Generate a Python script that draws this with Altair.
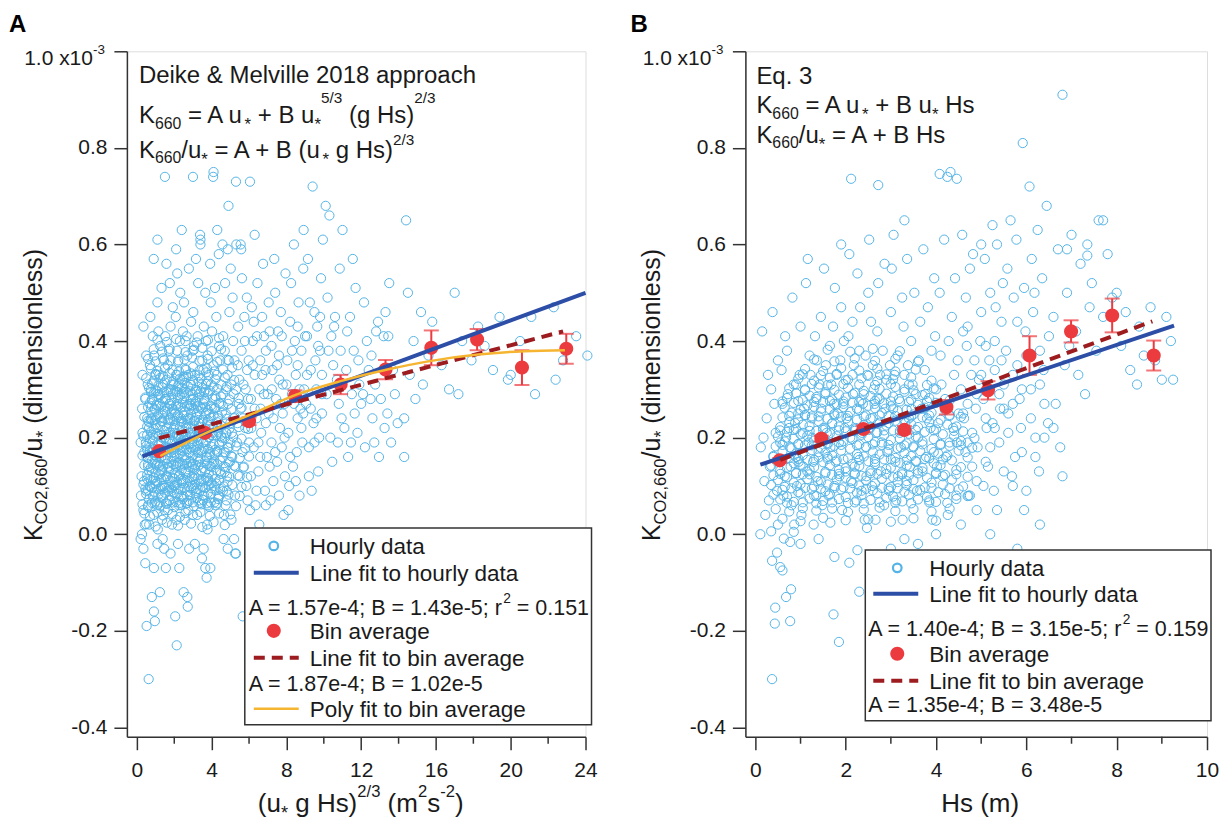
import altair as alt
import pandas as pd

FONT = "Liberation Sans"
TXT = "#1a1a1a"
AX = "#333333"
C_HOUR = "#55b4e6"
C_BIN = "#ec3b3f"
C_FIT = "#2d4ea6"
C_BFIT = "#9c1c1f"
C_POLY = "#f6b531"

# ---------------- data ----------------
hourly_a = [
    (0.25,0.12),(0.3,0.21),(0.35,0.05),(0.4,0.17),(0.45,0.28),(0.5,0.09),(0.3,0.33),(0.55,0.24),(0.2,0.19),(0.6,0.14),
    (0.35,0.43),(0.5,0.37),(0.42,0.02),(0.58,0.31),(0.28,0.26),(0.48,0.19),(0.22,0.08),(0.6,0.06),(0.38,0.11),(0.52,0.16),
    (0.65,0.22),(0.7,0.10),(0.75,0.30),(0.8,0.17),(0.85,0.41),(0.9,0.04),(0.95,0.26),(0.7,0.35),(0.8,0.13),(0.9,0.20),
    (1.0,0.33),(0.66,0.02),(0.72,0.45),(0.88,0.08),(0.97,0.15),(0.78,0.24),(0.92,0.37),(0.83,0.28),(0.68,0.18),(1.0,0.11),
    (1.05,0.22),(1.1,0.06),(1.15,0.29),(1.2,0.14),(1.25,0.39),(1.3,0.19),(1.35,0.03),(1.4,0.25),(1.45,0.10),(1.1,0.48),
    (1.2,0.33),(1.3,0.08),(1.4,0.31),(1.05,0.16),(1.15,0.42),(1.25,0.24),(1.35,0.13),(1.45,0.36),(1.5,0.20),(1.12,0.01),
    (1.32,0.51),(1.48,0.05),(1.22,0.27),(1.38,0.17),
    (1.55,0.28),(1.6,0.12),(1.65,0.35),(1.7,0.21),(1.75,0.07),(1.8,0.43),(1.85,0.16),(1.9,0.26),(1.95,0.31),(2.0,0.10),
    (1.58,0.56),(1.62,0.18),(1.72,0.38),(1.78,0.24),(1.88,0.02),(1.92,0.47),(1.68,0.14),(1.82,0.30),(1.98,0.22),(1.52,0.41),
    (1.66,0.05),(1.76,0.52),(1.86,0.09),(1.96,0.17),(1.74,0.27),
    (2.05,0.25),(2.1,0.14),(2.15,0.33),(2.2,0.20),(2.25,0.06),(2.3,0.40),(2.35,0.18),(2.4,0.29),(2.45,0.11),(2.5,0.23),
    (2.08,0.45),(2.12,0.03),(2.18,0.27),(2.22,0.36),(2.28,0.15),(2.32,0.50),(2.38,0.08),(2.42,0.32),(2.48,0.19),(2.02,0.21),
    (2.16,0.54),(2.26,0.12),(2.36,0.24),(2.46,0.42),(2.24,0.31),(2.44,0.16),
    (2.55,0.30),(2.6,0.13),(2.65,0.22),(2.7,0.37),(2.75,0.05),(2.8,0.26),(2.85,0.17),(2.9,0.44),(2.95,0.10),(3.0,0.28),
    (2.52,0.48),(2.58,0.20),(2.62,0.34),(2.68,0.08),(2.72,0.24),(2.78,0.55),(2.82,0.15),(2.88,0.31),(2.92,0.21),(2.98,0.38),
    (2.56,0.03),(2.66,0.41),(2.76,0.19),(2.86,0.27),(2.96,0.14),(2.74,0.33),
    (3.05,0.18),(3.1,0.33),(3.15,0.09),(3.2,0.25),(3.25,0.41),(3.3,0.15),(3.35,0.29),(3.4,0.61),(3.45,0.21),(3.5,0.36),
    (3.02,0.46),(3.08,0.12),(3.12,0.27),(3.18,0.20),(3.22,0.04),(3.28,0.52),(3.32,0.23),(3.38,0.62),(3.42,0.11),(3.48,0.31),
    (3.06,0.39),(3.16,0.57),(3.26,0.17),(3.36,0.07),(3.46,0.26),
    (3.55,0.19),(3.6,0.28),(3.65,0.13),(3.7,0.40),(3.75,0.23),(3.8,0.06),(3.85,0.33),(3.9,0.17),(3.95,0.48),(4.0,0.26),
    (3.52,0.08),(3.58,0.43),(3.62,0.21),(3.68,0.30),(3.72,0.16),(3.78,0.37),(3.82,0.11),(3.88,0.25),(3.92,0.56),(3.98,0.14),
    (3.56,0.34),(3.66,0.50),(3.76,0.02),(3.86,0.20),(3.96,0.31),
    (4.05,0.21),(4.1,0.35),(4.15,0.10),(4.2,0.28),(4.25,0.45),(4.3,0.17),(4.35,0.24),(4.4,0.39),(4.45,0.13),(4.5,0.31),
    (4.08,0.74),(4.12,0.15),(4.18,0.51),(4.22,0.06),(4.28,0.33),(4.32,0.22),(4.38,0.58),(4.42,0.19),(4.48,0.27),(4.02,0.42),
    (4.16,0.26),(4.36,0.08),(4.46,0.36),
    (4.55,0.20),(4.6,0.29),(4.65,0.14),(4.7,0.38),(4.75,0.25),(4.8,0.09),(4.85,0.33),(4.9,0.18),(4.95,0.46),(5.0,0.23),
    (4.58,0.60),(4.62,0.41),(4.68,0.17),(4.72,0.52),(4.78,0.30),(4.82,0.12),(4.88,0.27),(4.92,0.36),(4.98,0.15),(4.66,0.04),
    (4.86,0.59),(4.76,0.21),
    (5.05,0.31),(5.1,0.16),(5.15,0.40),(5.2,0.24),(5.25,0.08),(5.3,0.73),(5.35,0.19),(5.4,0.35),(5.45,0.27),(5.5,0.12),
    (5.02,0.55),(5.08,0.21),(5.12,0.49),(5.18,0.29),(5.22,0.36),(5.28,0.14),(5.32,0.60),(5.38,0.23),(5.42,0.43),(5.48,0.32),
    (5.26,-0.04),(5.06,0.03),
    (5.55,0.26),(5.6,0.38),(5.65,0.17),(5.7,0.31),(5.75,0.45),(5.8,0.22),(5.85,0.10),(5.9,0.34),(5.95,0.28),(6.0,0.19),
    (5.58,0.59),(5.62,0.53),(5.68,0.24),(5.72,0.14),(5.78,0.40),(5.82,0.30),(5.88,0.49),(5.92,0.07),(5.98,0.36),(5.66,-0.17),
    (6.05,0.73),(6.1,0.28),(6.2,0.40),(6.25,0.18),(6.3,0.33),(6.4,0.24),(6.45,0.52),(6.5,0.13),(6.6,0.36),(6.65,0.21),
    (6.7,0.45),(6.8,0.29),(6.85,0.09),(6.9,0.38),(6.95,0.16),(6.15,0.47),(6.35,0.06),(6.55,0.30),(6.75,0.56),(6.12,0.22),
    (6.42,0.41),(6.62,0.26),(6.88,0.34),
    (7.05,0.25),(7.1,0.42),(7.2,0.19),(7.25,0.34),(7.3,0.11),(7.4,0.50),(7.45,0.28),(7.5,0.15),(7.6,0.37),(7.65,0.22),
    (7.7,0.46),(7.8,0.31),(7.85,0.04),(7.9,0.27),(7.95,0.54),(7.15,0.07),(7.35,0.57),(7.55,0.42),(7.75,0.18),(7.22,0.30),
    (7.62,0.32),(7.92,0.12),
    (8.05,0.36),(8.1,0.21),(8.2,0.44),(8.3,0.29),(8.35,0.14),(8.4,0.60),(8.5,0.33),(8.6,0.24),(8.65,0.48),(8.7,0.08),
    (8.8,0.38),(8.85,0.19),(8.9,0.55),(8.95,0.30),(8.25,0.52),(8.45,0.40),(8.55,0.17),(8.75,0.26),(8.15,0.10),(8.6,0.43),
    (8.92,0.63),
    (9.05,0.27),(9.1,0.41),(9.2,0.18),(9.3,0.34),(9.4,0.72),(9.45,0.23),(9.5,0.46),(9.6,0.30),(9.7,0.13),(9.8,0.38),
    (9.85,0.53),(9.9,0.25),(9.95,0.61),(9.15,0.57),(9.35,0.09),(9.55,0.36),(9.75,0.20),(9.25,0.48),(9.65,0.43),(9.9,0.33),
    (10.1,0.68),(10.15,0.29),(10.3,0.66),(10.35,0.20),(10.4,0.41),(10.5,0.35),(10.6,0.45),(10.75,0.19),(10.8,0.27),(10.9,0.38),
    (11.0,0.63),(10.2,0.49),(10.45,0.15),(10.7,0.32),(10.95,0.24),(10.55,0.43),(10.25,0.38),(10.85,0.55),
    (11.1,0.22),(11.2,0.34),(11.3,0.16),(11.4,0.45),(11.5,0.29),(11.6,0.38),(11.7,0.51),(11.8,0.21),(11.9,0.31),(12.0,0.27),
    (11.45,0.19),(11.25,0.42),(11.65,0.25),(11.85,0.36),(11.55,0.57),
    (12.1,0.29),(12.2,0.18),(12.3,0.40),(12.5,0.28),(12.7,0.19),(12.8,0.42),(12.9,0.44),(12.95,0.16),(12.4,0.34),(12.6,0.24),
    (12.75,0.31),(12.15,0.48),(12.55,0.37),
    (13.05,0.28),(13.2,0.41),(13.25,0.22),(13.4,0.25),(13.45,0.41),(13.6,0.19),(13.7,0.34),(13.95,0.23),(13.3,0.46),(13.8,0.29),
    (13.5,0.52),
    (14.3,0.24),(14.3,0.16),(14.4,0.65),(14.6,0.33),(14.8,0.40),(15.2,0.46),(15.3,0.31),(15.6,0.37),(14.9,0.28),(15.8,0.44),
    (14.5,0.50),
    (16.3,0.35),(16.7,0.30),(17.0,0.50),(17.4,0.40),(17.9,0.36),(18.25,0.43),(18.6,0.39),(19.05,0.34),(19.4,0.45),(19.85,0.32),
    (17.2,0.29),
    (20.0,0.33),(20.5,0.40),(21.1,0.45),(21.3,0.29),(22.3,0.47),(22.4,0.32),(22.8,0.36),(24.1,0.37),(23.5,0.41),
    (0.63,-0.30),(0.52,-0.19),(0.96,-0.18),(0.80,-0.13),(1.23,-0.12),(0.91,-0.16),(2.05,-0.17),(2.13,-0.23),(2.5,-0.12),
    (2.7,-0.13),(2.72,-0.15),(0.45,-0.06),(0.91,-0.07),(1.55,-0.07),(2.27,-0.07),(2.8,-0.03),(3.73,-0.09),(3.66,-0.07),
    (3.48,-0.05),(3.57,-0.03),(3.93,-0.07),(3.78,0.01),(0.27,0.0),(1.38,-0.01),(1.1,-0.02),(1.46,-0.03),(4.64,-0.01),
    (5.2,-0.01),(5.3,-0.04),(4.86,-0.03),(0.2,-0.01),(0.35,-0.03),(3.1,-0.02),(2.2,-0.02),(1.8,-0.04),
    (1.5,0.74),(3.0,0.74),(4.1,0.75),(3.4,0.60),(2.1,0.59),(0.9,0.57),(4.9,0.68),(5.55,0.60),(4.3,0.63),(6.3,0.62),
    (2.4,0.63),(1.1,0.61),
]

core_a = [
    (0.5,0.021),(1.0,0.016),(1.6,0.024),(2.2,0.018),(2.9,0.022),(3.5,0.015),(4.1,0.025),(4.7,0.019),
    (0.4,0.043),(0.7,0.037),(1.1,0.045),(1.4,0.039),(1.9,0.042),(2.3,0.036),(2.6,0.044),(3.0,0.040),(3.4,0.046),(3.9,0.038),(4.4,0.043),(5.0,0.041),
    (0.3,0.062),(0.6,0.057),(0.95,0.064),(1.25,0.059),(1.6,0.063),(2.0,0.056),(2.35,0.061),(2.7,0.065),(3.05,0.058),(3.45,0.062),(3.85,0.057),(4.3,0.064),(4.75,0.06),(5.3,0.058),
    (0.65,0.072),(1.0,0.068),(1.4,0.074),(1.75,0.07),(2.1,0.067),(2.45,0.073),(2.8,0.069),(3.2,0.075),(3.55,0.071),(3.95,0.066),(4.35,0.073),(4.8,0.07),
    (0.5,0.083),(0.85,0.078),(1.15,0.082),(1.5,0.086),(1.85,0.079),(2.15,0.084),(2.5,0.077),(2.85,0.081),(3.2,0.085),(3.6,0.08),(3.95,0.083),(4.4,0.078),(4.9,0.082),(5.5,0.079),
    (0.6,0.092),(0.95,0.088),(1.3,0.094),(1.65,0.09),(2.0,0.087),(2.35,0.093),(2.7,0.089),(3.05,0.095),(3.4,0.091),(3.8,0.086),(4.2,0.092),(4.6,0.089),
    (0.35,0.103),(0.7,0.098),(1.0,0.104),(1.35,0.1),(1.7,0.097),(2.05,0.102),(2.4,0.106),(2.75,0.099),(3.1,0.103),(3.5,0.097),(3.85,0.101),(4.25,0.105),(4.65,0.099),(5.1,0.102),(5.6,0.098),
    (0.75,0.112),(1.1,0.108),(1.45,0.114),(1.8,0.11),(2.15,0.107),(2.5,0.113),(2.85,0.109),(3.25,0.115),(3.6,0.111),(4.0,0.106),(4.4,0.112),(4.85,0.109),
    (0.55,0.123),(0.9,0.118),(1.2,0.124),(1.55,0.12),(1.9,0.117),(2.25,0.122),(2.6,0.126),(2.95,0.119),(3.3,0.123),(3.7,0.117),(4.05,0.121),(4.5,0.125),(4.95,0.119),(5.4,0.122),(5.9,0.118),
    (0.65,0.132),(1.0,0.128),(1.35,0.134),(1.7,0.13),(2.05,0.127),(2.4,0.133),(2.75,0.129),(3.1,0.135),(3.45,0.131),(3.85,0.126),(4.25,0.132),(4.7,0.129),
    (0.4,0.143),(0.75,0.138),(1.05,0.144),(1.4,0.14),(1.75,0.137),(2.1,0.142),(2.45,0.146),(2.8,0.139),(3.15,0.143),(3.55,0.137),(3.9,0.141),(4.3,0.145),(4.75,0.139),(5.2,0.142),(5.7,0.138),
    (0.8,0.152),(1.15,0.148),(1.5,0.154),(1.85,0.15),(2.2,0.147),(2.55,0.153),(2.9,0.149),(3.25,0.155),(3.65,0.151),(4.05,0.146),(4.45,0.152),(4.9,0.149),
    (0.3,0.163),(0.6,0.158),(0.95,0.164),(1.3,0.16),(1.65,0.157),(2.0,0.162),(2.3,0.166),(2.65,0.159),(3.0,0.163),(3.4,0.157),(3.75,0.161),(4.15,0.165),(4.6,0.159),(5.05,0.162),(5.5,0.158),(6.0,0.161),
    (0.7,0.172),(1.05,0.168),(1.4,0.174),(1.75,0.17),(2.1,0.167),(2.45,0.173),(2.8,0.169),(3.15,0.175),(3.5,0.171),(3.9,0.166),(4.3,0.172),(4.75,0.169),
    (0.5,0.183),(0.85,0.178),(1.15,0.184),(1.5,0.18),(1.85,0.177),(2.2,0.182),(2.55,0.186),(2.9,0.179),(3.25,0.183),(3.6,0.177),(4.0,0.181),(4.4,0.185),(4.85,0.179),(5.3,0.182),(5.8,0.178),
    (0.85,0.192),(1.2,0.188),(1.55,0.194),(1.9,0.19),(2.25,0.187),(2.6,0.193),(2.95,0.189),(3.3,0.195),(3.7,0.191),(4.1,0.186),(4.55,0.192),(5.0,0.189),
    (0.35,0.203),(0.7,0.198),(1.0,0.204),(1.35,0.2),(1.7,0.197),(2.05,0.202),(2.4,0.206),(2.75,0.199),(3.1,0.203),(3.45,0.197),(3.85,0.201),(4.25,0.205),(4.7,0.199),(5.15,0.202),(5.6,0.198),
    (0.75,0.212),(1.1,0.208),(1.45,0.214),(1.8,0.21),(2.15,0.207),(2.5,0.213),(2.85,0.209),(3.2,0.215),(3.55,0.211),(3.95,0.206),(4.35,0.212),(4.8,0.209),
    (0.55,0.223),(0.9,0.218),(1.25,0.224),(1.6,0.22),(1.95,0.217),(2.3,0.222),(2.65,0.226),(3.0,0.219),(3.35,0.223),(3.7,0.217),(4.1,0.221),(4.5,0.225),(4.95,0.219),(5.45,0.222),(5.95,0.218),
    (0.65,0.232),(1.0,0.228),(1.35,0.234),(1.7,0.23),(2.05,0.227),(2.4,0.233),(2.75,0.229),(3.1,0.235),(3.5,0.231),(3.9,0.226),(4.3,0.232),(4.75,0.229),
    (0.4,0.243),(0.75,0.238),(1.1,0.244),(1.45,0.24),(1.8,0.237),(2.15,0.242),(2.5,0.246),(2.85,0.239),(3.2,0.243),(3.55,0.237),(3.95,0.241),(4.35,0.245),(4.8,0.239),(5.25,0.242),
    (0.8,0.252),(1.15,0.248),(1.5,0.254),(1.85,0.25),(2.2,0.247),(2.55,0.253),(2.9,0.249),(3.3,0.255),(3.7,0.251),(4.1,0.246),(4.55,0.252),
    (0.6,0.263),(0.95,0.258),(1.3,0.264),(1.65,0.26),(2.0,0.257),(2.35,0.262),(2.7,0.266),(3.05,0.259),(3.4,0.263),(3.8,0.257),(4.2,0.261),(4.6,0.265),(5.05,0.259),(5.6,0.262),
    (0.7,0.272),(1.05,0.268),(1.4,0.274),(1.75,0.27),(2.1,0.267),(2.45,0.273),(2.8,0.269),(3.15,0.275),(3.55,0.271),(3.95,0.266),(4.4,0.272),
    (0.45,0.283),(0.8,0.278),(1.15,0.284),(1.5,0.28),(1.85,0.277),(2.2,0.282),(2.55,0.286),(2.9,0.279),(3.3,0.283),(3.65,0.277),(4.05,0.281),(4.5,0.285),(4.95,0.279),(5.45,0.282),
    (0.9,0.292),(1.25,0.288),(1.6,0.294),(1.95,0.29),(2.3,0.287),(2.65,0.293),(3.0,0.289),(3.4,0.295),(3.8,0.291),(4.2,0.286),
    (0.65,0.303),(1.0,0.298),(1.35,0.304),(1.7,0.3),(2.05,0.297),(2.4,0.302),(2.75,0.306),(3.15,0.299),(3.5,0.303),(3.9,0.297),(4.3,0.301),(4.8,0.305),(5.3,0.299),
    (0.8,0.312),(1.15,0.308),(1.5,0.314),(1.85,0.31),(2.2,0.307),(2.55,0.313),(2.9,0.309),(3.3,0.315),(3.7,0.311),(4.1,0.306),
    (0.5,0.323),(0.9,0.318),(1.25,0.324),(1.6,0.32),(1.95,0.317),(2.3,0.322),(2.65,0.326),(3.0,0.319),(3.4,0.323),(3.8,0.317),(4.2,0.321),(4.7,0.325),(5.2,0.319),
    (1.0,0.332),(1.4,0.328),(1.75,0.334),(2.1,0.33),(2.5,0.327),(2.9,0.333),(3.3,0.329),(3.7,0.335),
    (0.75,0.343),(1.1,0.338),(1.5,0.344),(1.9,0.34),(2.25,0.337),(2.6,0.342),(3.0,0.346),(3.35,0.339),(3.75,0.343),(4.15,0.337),(4.6,0.341),(5.1,0.345),
    (0.6,0.363),(1.0,0.358),(1.4,0.364),(1.8,0.36),(2.2,0.357),(2.55,0.362),(2.95,0.366),(3.35,0.359),(3.8,0.363),(4.3,0.357),(4.85,0.361),
    (0.9,0.383),(1.35,0.378),(1.75,0.384),(2.15,0.38),(2.6,0.377),(3.05,0.382),(3.5,0.386),(4.0,0.379),(4.5,0.383),
    (1.1,0.403),(1.6,0.398),(2.1,0.404),(2.6,0.4),(3.2,0.397),(3.8,0.402),(4.4,0.406),
]

extra_a = [
    (0.8,0.065),(1.2,0.066),(1.55,0.064),(1.95,0.066),(2.3,0.065),(2.65,0.064),(3.0,0.066),(3.35,0.065),(3.75,0.064),(4.15,0.066),
    (0.45,0.095),(0.8,0.096),(1.15,0.094),(1.5,0.096),(1.85,0.095),(2.2,0.094),(2.55,0.096),(2.9,0.095),(3.25,0.094),(3.65,0.096),(4.0,0.095),(4.45,0.094),
    (0.55,0.115),(0.9,0.116),(1.3,0.114),(1.65,0.116),(2.0,0.115),(2.35,0.114),(2.7,0.116),(3.05,0.115),(3.45,0.114),(3.8,0.116),(4.2,0.115),
    (0.6,0.145),(0.95,0.146),(1.25,0.144),(1.6,0.146),(1.95,0.145),(2.3,0.144),(2.65,0.146),(3.0,0.145),(3.35,0.144),(3.75,0.146),(4.15,0.145),
    (0.55,0.175),(0.9,0.176),(1.25,0.174),(1.6,0.176),(1.95,0.175),(2.3,0.174),(2.65,0.176),(3.0,0.175),(3.4,0.174),(3.8,0.176),(4.2,0.175),
    (0.55,0.205),(0.85,0.206),(1.2,0.204),(1.55,0.206),(1.9,0.205),(2.25,0.204),(2.6,0.206),(2.95,0.205),(3.3,0.204),(3.65,0.206),(4.05,0.205),(4.5,0.204),
    (0.6,0.235),(0.95,0.236),(1.3,0.234),(1.65,0.236),(2.0,0.235),(2.35,0.234),(2.7,0.236),(3.05,0.235),(3.4,0.234),(3.8,0.236),
    (0.8,0.265),(1.15,0.266),(1.5,0.264),(1.85,0.266),(2.2,0.265),(2.55,0.264),(2.9,0.266),(3.25,0.265),(3.65,0.264),
    (0.75,0.295),(1.1,0.296),(1.45,0.294),(1.8,0.296),(2.15,0.295),(2.5,0.294),(2.85,0.296),(3.2,0.295),(3.6,0.294),
]

mid_a = [
    (6.1,0.12),(6.3,0.26),(6.5,0.19),(6.7,0.33),(6.9,0.23),(6.2,0.35),(6.4,0.09),(6.6,0.16),(6.8,0.41),(7.0,0.29),
    (7.1,0.14),(7.3,0.24),(7.5,0.35),(7.7,0.27),(7.9,0.20),(7.2,0.39),(7.4,0.17),(7.6,0.08),(7.8,0.25),(8.0,0.31),
    (8.2,0.16),(8.4,0.27),(8.6,0.35),(8.8,0.22),(9.0,0.41),(8.3,0.38),(8.5,0.11),(8.7,0.30),(8.9,0.25),(9.1,0.33),
    (9.3,0.26),(9.5,0.19),(9.7,0.39),(9.9,0.29),(9.2,0.12),(9.6,0.24),(9.8,0.45),(6.25,0.44),(7.05,0.48),(7.75,0.41),
    (6.05,0.05),(6.55,0.02),(7.45,-0.01),(6.9,0.06),(8.1,0.05),
]

hourly_b = [
    (0.12,0.18),(0.15,0.42),(0.2,0.11),(0.25,0.24),(0.3,0.07),(0.35,0.30),(0.4,0.16),(0.45,0.21),(0.5,0.36),(0.22,0.04),
    (0.32,0.14),(0.42,0.27),(0.48,0.09),(0.18,0.20),(0.28,0.33),(0.38,0.46),(0.5,0.02),
    (0.55,0.19),(0.6,0.27),(0.65,0.12),(0.7,0.38),(0.75,0.22),(0.8,0.06),(0.85,0.31),(0.9,0.16),(0.95,0.25),(1.0,0.43),
    (0.58,0.34),(0.62,0.08),(0.68,0.20),(0.72,0.29),(0.78,0.14),(0.82,0.49),(0.88,0.23),(0.92,0.10),(0.98,0.33),(0.66,0.41),
    (0.86,0.02),(0.76,0.18),(0.96,0.15),
    (1.05,0.21),(1.1,0.30),(1.15,0.13),(1.2,0.37),(1.25,0.24),(1.3,0.08),(1.35,0.28),(1.4,0.17),(1.45,0.45),(1.5,0.22),
    (1.02,0.04),(1.08,0.26),(1.12,0.52),(1.18,0.19),(1.22,0.33),(1.28,0.15),(1.32,0.41),(1.38,0.11),(1.42,0.31),(1.48,0.06),
    (1.16,0.57),(1.26,0.20),(1.36,0.36),(1.46,0.26),(1.06,0.14),
    (1.55,0.29),(1.6,0.16),(1.65,0.39),(1.7,0.23),(1.75,0.10),(1.8,0.33),(1.85,0.19),(1.9,0.47),(1.95,0.27),(2.0,0.13),
    (1.52,0.55),(1.58,0.21),(1.62,0.08),(1.68,0.31),(1.72,0.43),(1.78,0.15),(1.82,0.25),(1.88,0.36),(1.92,0.05),(1.98,0.22),
    (1.56,0.35),(1.66,0.18),(1.76,0.51),(1.86,0.12),(1.96,0.40),(1.74,0.27),
    (2.05,0.32),(2.1,0.20),(2.15,0.44),(2.2,0.14),(2.25,0.26),(2.3,0.38),(2.35,0.09),(2.4,0.29),(2.45,0.18),(2.5,0.50),
    (2.02,0.24),(2.08,0.58),(2.12,0.11),(2.18,0.35),(2.22,0.22),(2.28,0.16),(2.32,0.47),(2.38,0.27),(2.42,0.03),(2.48,0.33),
    (2.06,0.41),(2.16,0.29),(2.26,0.54),(2.36,0.21),(2.46,0.12),(2.24,0.07),(2.44,0.37),
    (2.55,0.24),(2.6,0.35),(2.65,0.15),(2.7,0.42),(2.75,0.28),(2.8,0.19),(2.85,0.06),(2.9,0.32),(2.95,0.23),(3.0,0.46),
    (2.52,0.61),(2.58,0.10),(2.62,0.30),(2.68,0.21),(2.72,0.52),(2.78,0.13),(2.82,0.38),(2.88,0.26),(2.92,0.17),(2.98,0.35),
    (2.56,0.44),(2.66,0.03),(2.76,0.33),(2.86,0.56),(2.96,0.09),(2.64,0.27),
    (3.05,0.26),(3.1,0.15),(3.15,0.37),(3.2,0.21),(3.25,0.49),(3.3,0.30),(3.35,0.11),(3.4,0.24),(3.45,0.40),(3.5,0.18),
    (3.02,0.55),(3.08,0.33),(3.12,0.07),(3.18,0.28),(3.22,0.18),(3.28,0.43),(3.32,0.23),(3.38,0.35),(3.42,0.14),(3.48,0.31),
    (3.06,0.62),(3.16,0.12),(3.26,0.03),(3.36,0.57),(3.46,0.26),
    (3.55,0.29),(3.6,0.20),(3.65,0.44),(3.7,0.13),(3.75,0.34),(3.8,0.24),(3.85,0.07),(3.9,0.38),(3.95,0.17),(4.0,0.30),
    (3.52,0.50),(3.58,0.09),(3.62,0.36),(3.68,0.26),(3.72,0.59),(3.78,0.16),(3.82,0.47),(3.88,0.22),(3.92,0.03),(3.98,0.41),
    (3.56,0.15),(3.76,0.29),(3.96,0.53),
    (4.05,0.23),(4.1,0.37),(4.15,0.12),(4.2,0.28),(4.25,0.74),(4.3,0.19),(4.35,0.45),(4.4,0.33),(4.45,0.08),(4.5,0.25),
    (4.08,0.50),(4.12,0.31),(4.18,0.61),(4.22,0.16),(4.28,0.40),(4.32,0.75),(4.38,0.22),(4.42,0.53),(4.48,0.36),(4.02,0.14),
    (4.26,0.04),(4.46,0.19),
    (4.55,0.30),(4.6,0.42),(4.65,0.17),(4.7,0.27),(4.75,0.55),(4.8,0.21),(4.85,0.36),(4.9,0.11),(4.95,0.32),(5.0,0.46),
    (4.58,0.62),(4.62,0.24),(4.68,0.39),(4.72,0.08),(4.78,0.33),(4.82,0.58),(4.88,0.26),(4.92,0.18),(4.98,0.40),(4.66,0.49),
    (5.05,0.28),(5.1,0.39),(5.15,0.14),(5.2,0.50),(5.25,0.23),(5.3,0.34),(5.35,0.60),(5.4,0.19),(5.45,0.44),(5.5,0.31),
    (5.08,0.57),(5.12,0.22),(5.18,0.36),(5.28,0.09),(5.32,0.47),(5.42,0.26),(5.48,0.52),
    (5.55,0.38),(5.6,0.25),(5.65,0.65),(5.7,0.33),(5.75,0.16),(5.8,0.44),(5.85,0.28),(5.92,0.81),(5.95,0.51),(6.0,0.37),
    (5.58,0.55),(5.68,0.12),(5.78,0.61),(5.88,0.22),(5.98,0.42),(5.72,0.49),
    (6.07,0.72),(6.1,0.30),(6.15,0.46),(6.2,0.20),(6.25,0.63),(6.3,0.38),(6.35,0.53),(6.4,0.27),(6.45,0.68),(6.5,0.41),
    (6.12,0.57),(6.28,0.13),(6.38,0.34),(6.18,0.50),(6.48,0.23),
    (6.6,0.45),(6.7,0.59),(6.8,0.91),(6.85,0.35),(6.9,0.50),(7.0,0.62),(7.1,0.42),(7.2,0.56),(7.3,0.29),(7.4,0.47),
    (6.65,0.27),(6.95,0.39),(7.15,0.33),(7.35,0.60),(7.45,0.52),(6.75,0.18),
    (7.6,0.65),(7.7,0.45),(7.8,0.58),(7.9,0.49),(8.0,0.50),(8.1,0.39),(8.2,0.46),(8.3,0.34),(8.45,0.31),(8.6,0.37),
    (8.75,0.47),(8.85,0.36),(9.0,0.32),(9.2,0.40),(9.25,0.32),(8.5,0.43),(7.55,0.38),(9.1,0.45),
    (0.37,-0.30),(0.43,-0.185),(0.77,-0.18),(0.44,-0.152),(0.68,-0.13),(0.79,-0.114),(1.73,-0.166),(1.85,-0.223),
    (2.3,-0.119),(1.75,-0.047),(2.08,-0.059),(2.26,-0.033),(0.37,-0.055),(0.55,-0.068),(0.48,-0.038),(0.11,0.0),
    (0.35,0.006),(0.63,-0.009),(0.77,-0.016),(0.85,0.005),(1.29,0.02),(1.66,0.024),(2.47,0.013),(0.6,-0.075),
    (1.0,-0.02),(1.4,-0.01),(3.0,-0.03),(3.3,-0.01),(4.0,0.0),(3.6,-0.02),
    (2.12,0.736),(2.72,0.723),(4.08,0.746),(4.46,0.736),(5.0,0.60),(5.25,0.64),(6.9,0.59),(7.35,0.577),(7.7,0.65),
    (1.9,0.60),(3.3,0.65),
]

core_b = [
    (0.6,0.032),(1.0,0.027),(1.5,0.034),(2.0,0.029),(2.5,0.031),(3.0,0.026),(3.5,0.033),(4.0,0.028),
    (0.45,0.052),(0.75,0.047),(1.05,0.054),(1.35,0.049),(1.7,0.053),(2.05,0.046),(2.4,0.051),(2.75,0.055),(3.1,0.048),(3.5,0.052),(3.9,0.047),(4.3,0.053),
    (0.55,0.072),(0.85,0.067),(1.2,0.074),(1.5,0.069),(1.85,0.073),(2.2,0.066),(2.55,0.071),(2.9,0.075),(3.25,0.068),(3.6,0.072),(4.0,0.067),(4.45,0.073),
    (0.4,0.082),(0.7,0.078),(1.0,0.084),(1.35,0.079),(1.65,0.083),(2.0,0.077),(2.35,0.081),(2.7,0.085),(3.05,0.078),(3.4,0.082),(3.8,0.077),(4.2,0.083),(4.7,0.079),
    (0.6,0.092),(0.95,0.087),(1.25,0.094),(1.55,0.089),(1.9,0.093),(2.25,0.086),(2.6,0.091),(2.95,0.095),(3.3,0.088),(3.65,0.092),(4.05,0.087),(4.5,0.093),
    (0.35,0.102),(0.65,0.098),(1.0,0.104),(1.3,0.099),(1.6,0.103),(1.95,0.097),(2.3,0.101),(2.65,0.105),(3.0,0.098),(3.35,0.102),(3.75,0.097),(4.15,0.103),(4.6,0.099),
    (0.5,0.112),(0.85,0.107),(1.15,0.114),(1.45,0.109),(1.8,0.113),(2.15,0.106),(2.45,0.111),(2.8,0.115),(3.15,0.108),(3.5,0.112),(3.9,0.107),(4.35,0.113),
    (0.4,0.122),(0.7,0.118),(1.05,0.124),(1.35,0.119),(1.7,0.123),(2.0,0.117),(2.35,0.121),(2.7,0.125),(3.05,0.118),(3.4,0.122),(3.8,0.117),(4.2,0.123),(4.7,0.119),
    (0.55,0.132),(0.9,0.127),(1.2,0.134),(1.55,0.129),(1.85,0.133),(2.2,0.126),(2.55,0.131),(2.9,0.135),(3.25,0.128),(3.6,0.132),(4.0,0.127),(4.45,0.133),
    (0.35,0.142),(0.7,0.138),(1.0,0.144),(1.3,0.139),(1.65,0.143),(2.0,0.137),(2.3,0.141),(2.65,0.145),(3.0,0.138),(3.35,0.142),(3.7,0.137),(4.1,0.143),(4.55,0.139),
    (0.5,0.152),(0.85,0.147),(1.15,0.154),(1.5,0.149),(1.8,0.153),(2.15,0.146),(2.5,0.151),(2.85,0.155),(3.2,0.148),(3.55,0.152),(3.95,0.147),(4.35,0.153),
    (0.4,0.162),(0.75,0.158),(1.05,0.164),(1.4,0.159),(1.7,0.163),(2.05,0.157),(2.4,0.161),(2.75,0.165),(3.1,0.158),(3.45,0.162),(3.85,0.157),(4.25,0.163),(4.7,0.159),
    (0.6,0.172),(0.9,0.167),(1.25,0.174),(1.55,0.169),(1.9,0.173),(2.25,0.166),(2.6,0.171),(2.95,0.175),(3.3,0.168),(3.65,0.172),(4.05,0.167),(4.5,0.173),
    (0.45,0.182),(0.8,0.178),(1.1,0.184),(1.45,0.179),(1.75,0.183),(2.1,0.177),(2.45,0.181),(2.8,0.185),(3.15,0.178),(3.5,0.182),(3.9,0.177),(4.3,0.183),(4.8,0.179),
    (0.65,0.192),(0.95,0.187),(1.3,0.194),(1.6,0.189),(1.95,0.193),(2.3,0.186),(2.65,0.191),(3.0,0.195),(3.35,0.188),(3.7,0.192),(4.1,0.187),(4.55,0.193),
    (0.5,0.202),(0.85,0.198),(1.15,0.204),(1.5,0.199),(1.8,0.203),(2.15,0.197),(2.5,0.201),(2.85,0.205),(3.2,0.198),(3.55,0.202),(3.95,0.197),(4.4,0.203),(4.85,0.199),
    (0.7,0.212),(1.0,0.207),(1.35,0.214),(1.65,0.209),(2.0,0.213),(2.35,0.206),(2.7,0.211),(3.05,0.215),(3.4,0.208),(3.75,0.212),(4.15,0.207),(4.6,0.213),
    (0.55,0.222),(0.9,0.218),(1.2,0.224),(1.55,0.219),(1.85,0.223),(2.2,0.217),(2.55,0.221),(2.9,0.225),(3.25,0.218),(3.6,0.222),(4.0,0.217),(4.45,0.223),
    (0.75,0.232),(1.05,0.227),(1.4,0.234),(1.7,0.229),(2.05,0.233),(2.4,0.226),(2.75,0.231),(3.1,0.235),(3.45,0.228),(3.85,0.232),(4.25,0.227),
    (0.6,0.242),(0.95,0.238),(1.25,0.244),(1.6,0.239),(1.9,0.243),(2.25,0.237),(2.6,0.241),(2.95,0.245),(3.3,0.238),(3.7,0.242),(4.1,0.237),(4.55,0.243),
    (0.8,0.252),(1.1,0.247),(1.45,0.254),(1.75,0.249),(2.1,0.253),(2.45,0.246),(2.8,0.251),(3.15,0.255),(3.5,0.248),(3.9,0.252),(4.3,0.247),
    (0.65,0.262),(1.0,0.258),(1.3,0.264),(1.65,0.259),(1.95,0.263),(2.3,0.257),(2.65,0.261),(3.0,0.265),(3.35,0.258),(3.75,0.262),(4.2,0.257),
    (0.85,0.272),(1.15,0.267),(1.5,0.274),(1.8,0.269),(2.15,0.273),(2.5,0.266),(2.85,0.271),(3.2,0.275),(3.6,0.268),(4.0,0.272),
    (0.7,0.282),(1.05,0.278),(1.35,0.284),(1.7,0.279),(2.0,0.283),(2.35,0.277),(2.7,0.281),(3.05,0.285),(3.45,0.278),(3.85,0.282),(4.3,0.277),
    (0.9,0.292),(1.2,0.287),(1.55,0.294),(1.85,0.289),(2.2,0.293),(2.55,0.286),(2.9,0.291),(3.3,0.295),(3.7,0.288),
    (0.75,0.302),(1.1,0.298),(1.4,0.304),(1.75,0.299),(2.05,0.303),(2.4,0.297),(2.75,0.301),(3.1,0.305),(3.5,0.298),(3.95,0.302),
    (0.95,0.322),(1.3,0.318),(1.65,0.324),(2.0,0.319),(2.35,0.323),(2.7,0.317),(3.05,0.321),(3.45,0.325),(3.9,0.318),
    (1.1,0.342),(1.5,0.338),(1.9,0.344),(2.3,0.339),(2.7,0.343),(3.1,0.337),(3.55,0.341),
    (1.3,0.362),(1.75,0.358),(2.2,0.364),(2.65,0.359),(3.1,0.363),(3.6,0.357),
    (1.6,0.382),(2.1,0.378),(2.6,0.384),(3.2,0.379),
]

extra_b = [
    (0.7,0.065),(1.05,0.066),(1.35,0.064),(1.7,0.066),(2.05,0.065),(2.4,0.064),(2.75,0.066),(3.1,0.065),(3.45,0.064),(3.85,0.066),(4.25,0.065),
    (0.8,0.095),(1.1,0.096),(1.45,0.094),(1.75,0.096),(2.1,0.095),(2.45,0.094),(2.8,0.096),(3.15,0.095),(3.5,0.094),(3.9,0.096),(4.3,0.095),
    (0.55,0.125),(0.9,0.126),(1.2,0.124),(1.55,0.126),(1.85,0.125),(2.2,0.124),(2.55,0.126),(2.9,0.125),(3.25,0.124),(3.6,0.126),(4.0,0.125),(4.45,0.124),
    (0.6,0.155),(0.95,0.156),(1.3,0.154),(1.6,0.156),(1.95,0.155),(2.3,0.154),(2.65,0.156),(3.0,0.155),(3.35,0.154),(3.75,0.156),(4.15,0.155),
    (0.6,0.185),(0.95,0.186),(1.25,0.184),(1.6,0.186),(1.9,0.185),(2.25,0.184),(2.6,0.186),(2.95,0.185),(3.3,0.184),(3.7,0.186),(4.1,0.185),(4.55,0.184),
    (0.55,0.215),(0.85,0.216),(1.2,0.214),(1.5,0.216),(1.85,0.215),(2.2,0.214),(2.5,0.216),(2.85,0.215),(3.2,0.214),(3.55,0.216),(3.95,0.215),(4.4,0.214),
    (0.75,0.245),(1.1,0.246),(1.4,0.244),(1.75,0.246),(2.05,0.245),(2.4,0.244),(2.75,0.246),(3.1,0.245),(3.45,0.244),(3.85,0.246),(4.3,0.245),
    (0.6,0.275),(0.95,0.276),(1.3,0.274),(1.65,0.276),(1.95,0.275),(2.3,0.274),(2.65,0.276),(3.0,0.275),(3.4,0.274),(3.8,0.276),
    (0.9,0.31),(1.25,0.311),(1.6,0.309),(1.95,0.311),(2.3,0.31),(2.65,0.309),(3.0,0.311),(3.4,0.31),(3.8,0.309),
    (1.05,0.331),(1.45,0.329),(1.8,0.332),(2.15,0.33),(2.5,0.328),(2.9,0.331),(3.3,0.33),
]

mid_b = [
    (4.6,0.25),(4.8,0.14),(5.0,0.33),(5.2,0.18),(5.4,0.29),(5.6,0.21),(5.8,0.35),(4.7,0.43),(4.9,0.05),(5.1,0.24),
    (5.3,0.40),(5.5,0.13),(5.7,0.27),(5.9,0.17),(6.1,0.24),(6.3,0.31),(4.55,0.02),(5.05,0.10),(5.45,0.36),(6.0,0.09),
    (4.7,0.19),(4.9,0.29),(5.1,0.15),(5.3,0.22),(5.5,0.26),(5.7,0.10),(5.9,0.30),(6.2,0.16),(6.4,0.20),(4.75,0.08),
    (5.35,0.05),(5.95,0.05),(6.6,0.22),(6.8,0.12),(5.2,0.0),(5.8,-0.03),(6.3,0.02),
]

bins_a_x = [1.19, 3.64, 6.0, 8.46, 10.9, 13.3, 15.75, 18.2, 20.6, 22.97]
bins_a_y = [0.172, 0.210, 0.234, 0.286, 0.310, 0.341, 0.386, 0.403, 0.345, 0.384]
bins_a_err = [0.005, 0.006, 0.008, 0.012, 0.02, 0.02, 0.036, 0.022, 0.036, 0.031]

bins_b_x = [0.54, 1.46, 2.39, 3.30, 4.23, 5.15, 6.07, 6.99, 7.90, 8.82]
bins_b_y = [0.153, 0.198, 0.218, 0.216, 0.263, 0.298, 0.370, 0.420, 0.453, 0.370]
bins_b_err = [0.005, 0.006, 0.007, 0.008, 0.015, 0.019, 0.04, 0.023, 0.035, 0.031]

fit_a_x, fit_a_y = [0.3, 24.0], [0.161, 0.500]
binfit_a_x, binfit_a_y = [1.18, 22.8], [0.199, 0.420]
poly_a_x = [1.25, 3.6, 6.1, 8.6, 10.9, 13.4, 15.75, 18.25, 20.75, 22.9]
poly_a_y = [0.162, 0.208, 0.248, 0.290, 0.317, 0.341, 0.359, 0.372, 0.379, 0.381]

fit_b_x, fit_b_y = [0.11, 9.27], [0.144, 0.432]
binfit_b_x, binfit_b_y = [0.55, 8.79], [0.154, 0.441]

x_ticks_a = [0, 4, 8, 12, 16, 20, 24]
x_minor_a = [2, 6, 10, 14, 18, 22]
x_ticks_b = [0, 2, 4, 6, 8, 10]
x_minor_b = [1, 3, 5, 7, 9]
y_ticks = [-0.4, -0.2, 0.0, 0.2, 0.4, 0.6, 0.8, 1.0]

# ---------------- layout (screen pixels) ----------------
TOP, H = 50, 686
Y0, Y1 = -0.4193, 1.0
A_LEFT, A_W = 126, 459
B_LEFT, B_W = 745, 462
SPACING = B_LEFT - (A_LEFT + A_W)
XA = [-0.5345, 24.0]
XB = [-0.2212, 10.0]

CW = {' ': 278, '&': 667, '(': 333, ')': 333, '*': 389, '+': 584, ',': 278, '-': 333, '.': 278,
      '/': 278, ';': 278, '=': 584, 'A': 667, 'B': 667, 'C': 722, 'D': 722, 'E': 667, 'H': 722,
      'K': 667, 'L': 556, 'M': 833, 'O': 778, 'P': 667, 'a': 556, 'b': 556, 'c': 500, 'd': 556,
      'e': 556, 'f': 278, 'g': 556, 'h': 556, 'i': 222, 'k': 500, 'l': 222, 'm': 833, 'n': 556,
      'o': 556, 'p': 556, 'q': 556, 'r': 333, 's': 500, 't': 278, 'u': 556, 'v': 500, 'x': 500,
      'y': 500}
KIND = {'n': (1.0, 0.0), 'b': (0.66, 0.22), 'p': (0.64, -0.55), 'P': (0.64, -0.85), 'a': (0.7, 0.28)}


def tw(s, fs):
    return sum(CW.get(ch, 556) for ch in s) * fs / 1000.0


def rich(segs, sx, sy, base, align="left", color=TXT):
    total = sum(tw(t, base * KIND[k][0]) for t, k in segs)
    x = sx - (total if align == "right" else total / 2 if align == "center" else 0)
    out = []
    for t, k in segs:
        f, d = KIND[k]
        fs = base * f
        lead = len(t) - len(t.lstrip(" "))
        out.append((x + tw(" " * lead, fs), sy + d * base, t.strip(" "), fs, color))
        x += tw(t, fs)
    return out


def rich_rot(segs, bx, cy, base, color=TXT):
    total = sum(tw(t, base * KIND[k][0]) for t, k in segs)
    y = cy + total / 2
    out = []
    for t, k in segs:
        f, d = KIND[k]
        fs = base * f
        lead = len(t) - len(t.lstrip(" "))
        out.append((bx + d * base, y - tw(" " * lead, fs), t.strip(" "), fs, color))
        y -= tw(t, fs)
    return out


def build_panel(left, width, xdom, xt, xminor, hourly, bx, by, be, lines, legend, texts, rot, bold, anchor):
    def cx(sx):
        return xdom[0] + (sx - left) / width * (xdom[1] - xdom[0])

    def cy(sy):
        return Y1 - (sy - TOP) / H * (Y1 - Y0)

    xscale = alt.Scale(domain=xdom, nice=False, zero=False)
    yscale = alt.Scale(domain=[Y0, Y1], nice=False, zero=False)
    xaxis = alt.Axis(values=xt, format="d", title=None, grid=False, domainColor=AX, domainWidth=1.5,
                     tickColor=AX, tickWidth=1.5, tickSize=13, labelFont=FONT, labelFontSize=21,
                     labelColor=TXT, labelPadding=10, labelFlush=False, labelOverlap=False)
    yaxis = alt.Axis(values=y_ticks, title=None, grid=False, domainColor=AX, domainWidth=1.5,
                     tickColor=AX, tickWidth=1.5, tickSize=13, labelFont=FONT, labelFontSize=21,
                     labelColor=TXT, labelPadding=7, labelFlush=False, labelOverlap=False,
                     labelExpr="datum.value > 0.99 ? '' : (datum.value < -0.01 ? '-' + format(-datum.value, '.1f') : format(abs(datum.value), '.1f'))")
    X = alt.X("x:Q", scale=xscale, axis=xaxis)
    Y = alt.Y("y:Q", scale=yscale, axis=yaxis)

    layers = []
    dh = pd.DataFrame(hourly, columns=["x", "y"])
    layers.append(alt.Chart(dh).mark_point(filled=False, size=85, strokeWidth=1, color=C_HOUR, opacity=1)
                  .encode(x=X, y=Y))
    db = pd.DataFrame({"x": bx, "y": by, "e": be})
    db["lo"] = db["y"] - db["e"]
    db["hi"] = db["y"] + db["e"]
    layers.append(alt.Chart(db).mark_rule(color=C_BIN, strokeWidth=2)
                  .encode(x=X, y=alt.Y("lo:Q", scale=yscale, axis=yaxis), y2="hi:Q"))
    caps = pd.concat([db[["x", "lo"]].rename(columns={"lo": "y"}), db[["x", "hi"]].rename(columns={"hi": "y"})])
    layers.append(alt.Chart(caps).mark_tick(orient="horizontal", size=15, thickness=2, color=C_BIN)
                  .encode(x=X, y=Y))
    layers.append(alt.Chart(db).mark_circle(size=200, color=C_BIN, opacity=1).encode(x=X, y=Y))
    for (lx, ly, col, w, dash, interp) in lines:
        kw = dict(color=col, strokeWidth=w, interpolate=interp)
        if dash:
            kw["strokeDash"] = dash
        layers.append(alt.Chart(pd.DataFrame({"x": lx, "y": ly})).mark_line(**kw).encode(x=X, y=Y))
    # minor ticks
    layers.append(alt.Chart(pd.DataFrame({"x": xminor})).mark_rule(color=AX, strokeWidth=1.5)
                  .encode(x=X, y=alt.value(H), y2=alt.value(H + 7)))
    # legend box
    bx0, by0, bx1, by1 = legend["box"]
    box = pd.DataFrame({"x": [cx(bx0)], "x2": [cx(bx1)], "y": [cy(by0)], "y2": [cy(by1)]})
    layers.append(alt.Chart(box).mark_rect(fill="white", stroke=AX, strokeWidth=1.5)
                  .encode(x=X, x2="x2:Q", y=Y, y2="y2:Q"))
    # legend symbols
    sym_c = legend["circle"]
    layers.append(alt.Chart(pd.DataFrame({"x": [cx(sym_c[0])], "y": [cy(sym_c[1])]}))
                  .mark_point(filled=False, size=75, strokeWidth=2.2, color=C_HOUR, opacity=1).encode(x=X, y=Y))
    sym_d = legend["dot"]
    layers.append(alt.Chart(pd.DataFrame({"x": [cx(sym_d[0])], "y": [cy(sym_d[1])]}))
                  .mark_circle(size=200, color=C_BIN, opacity=1).encode(x=X, y=Y))
    for (sx0, sx1, sy, col, w, dash) in legend["lines"]:
        kw = dict(color=col, strokeWidth=w)
        if dash:
            kw["strokeDash"] = dash
        layers.append(alt.Chart(pd.DataFrame({"x": [cx(sx0)], "x2": [cx(sx1)], "y": [cy(sy)]}))
                      .mark_rule(**kw).encode(x=X, x2="x2:Q", y=Y))
    # texts
    dt = pd.DataFrame([(cx(a), cy(b), t, fs, c) for a, b, t, fs, c in texts], columns=["x", "y", "t", "fs", "c"])
    layers.append(alt.Chart(dt).mark_text(align="left", baseline="alphabetic", font=FONT)
                  .encode(x=X, y=Y, text="t:N", size=alt.Size("fs:Q", scale=None, legend=None),
                          color=alt.Color("c:N", scale=None, legend=None)))
    dr = pd.DataFrame([(cx(a), cy(b), t, fs, c) for a, b, t, fs, c in rot], columns=["x", "y", "t", "fs", "c"])
    layers.append(alt.Chart(dr).mark_text(align="left", baseline="alphabetic", font=FONT, angle=270)
                  .encode(x=X, y=Y, text="t:N", size=alt.Size("fs:Q", scale=None, legend=None),
                          color=alt.Color("c:N", scale=None, legend=None)))
    dbold = pd.DataFrame([(cx(bold[0]), cy(bold[1]), bold[2])], columns=["x", "y", "t"])
    layers.append(alt.Chart(dbold).mark_text(align="left", baseline="alphabetic", font=FONT, fontSize=24,
                                             fontWeight="bold", color="#000000")
                  .encode(x=X, y=Y, text="t:N"))
    if anchor:
        layers.append(alt.Chart(pd.DataFrame({"a": [0]})).mark_rule(stroke="white", strokeOpacity=0, strokeWidth=1)
                      .encode(x=alt.value(-left), x2=alt.value(-left), y=alt.value(-TOP), y2=alt.value(-TOP + 10)))
    return alt.layer(*layers).properties(width=width, height=H)


# ---------------- texts ----------------
T = 24
texts_a = []
texts_a += rich([("Deike & Melville 2018 approach", "n")], 138, 82, T)
texts_a += rich([("K", "n"), ("660", "b"), (" = A u", "n"), ("*", "a"), (" + B u", "n"), ("*", "a"), ("5/3", "P"),
                 (" (g Hs)", "n"), ("2/3", "P")], 138, 122, T)
texts_a += rich([("K", "n"), ("660", "b"), ("/u", "n"), ("*", "a"), (" = A + B (u", "n"), ("*", "a"),
                 (" g Hs)", "n"), ("2/3", "p")], 138, 157, T)
texts_a += rich([("1.0 x10", "n"), ("-3", "p")], 104, 64, 21, align="right")
texts_a += rich([("(u", "n"), ("*", "a"), (" g Hs)", "n"), ("2/3", "p"), (" (m", "n"), ("2", "p"), ("s", "n"),
                 ("-2", "p"), (")", "n")], 360, 811, 26, align="center")
LF, LF2 = 22.5, 21.5
texts_a += rich([("Hourly data", "n")], 309, 553, LF)
texts_a += rich([("Line fit to hourly data", "n")], 309, 580, LF)
texts_a += rich([("A = 1.57e-4; B = 1.43e-5; r", "n"), ("2", "p"), (" = 0.151", "n")], 248, 614, LF2)
texts_a += rich([("Bin average", "n")], 309, 638, LF)
texts_a += rich([("Line fit to bin average", "n")], 309, 665, LF)
texts_a += rich([("A = 1.87e-4; B = 1.02e-5", "n")], 248, 690, LF2)
texts_a += rich([("Poly fit to bin average", "n")], 309, 716, LF)

texts_b = []
texts_b += rich([("Eq. 3", "n")], 756, 83, T)
texts_b += rich([("K", "n"), ("660", "b"), (" = A u", "n"), ("*", "a"), (" + B u", "n"), ("*", "a"), (" Hs", "n")],
                756, 112, T)
texts_b += rich([("K", "n"), ("660", "b"), ("/u", "n"), ("*", "a"), (" = A + B Hs", "n")], 756, 142, T)
texts_b += rich([("1.0 x10", "n"), ("-3", "p")], 104 + 619, 64, 21, align="right")
texts_b += rich([("Hs (m)", "n")], 980, 811, 26, align="center")
texts_b += rich([("Hourly data", "n")], 929, 575, LF)
texts_b += rich([("Line fit to hourly data", "n")], 929, 601, LF)
texts_b += rich([("A = 1.40e-4; B = 3.15e-5; r", "n"), ("2", "p"), (" = 0.159", "n")], 868, 635, LF2)
texts_b += rich([("Bin average", "n")], 929, 661, LF)
texts_b += rich([("Line fit to bin average", "n")], 929, 688, LF)
texts_b += rich([("A = 1.35e-4; B = 3.48e-5", "n")], 868, 711, LF2)

ytitle = [("K", "n"), ("CO2,660", "b"), ("/u", "n"), ("*", "a"), (" (dimensionless)", "n")]
rot_a = rich_rot(ytitle, 41, 394, 25)
rot_b = rich_rot(ytitle, 660, 394, 25)

lines_a = [
    (fit_a_x, fit_a_y, C_FIT, 4, None, "linear"),
    (binfit_a_x, binfit_a_y, C_BFIT, 4, [11, 7], "linear"),
    (poly_a_x, poly_a_y, C_POLY, 2.5, None, "monotone"),
]
lines_b = [
    (fit_b_x, fit_b_y, C_FIT, 4, None, "linear"),
    (binfit_b_x, binfit_b_y, C_BFIT, 4, [11, 7], "linear"),
]
legend_a = {
    "box": (244, 527, 591, 724),
    "circle": (273, 545),
    "dot": (273, 630),
    "lines": [(253, 298, 572, C_FIT, 4, None), (253, 298, 657, C_BFIT, 4, [11, 7]), (253, 298, 708, C_POLY, 2.5, None)],
}
legend_b = {
    "box": (865, 549, 1211, 720),
    "circle": (897, 567),
    "dot": (897, 653),
    "lines": [(873, 918, 593, C_FIT, 4, None), (873, 918, 680, C_BFIT, 4, [11, 7])],
}

pa = build_panel(A_LEFT, A_W, XA, x_ticks_a, x_minor_a, hourly_a + core_a + extra_a + mid_a,
                 bins_a_x, bins_a_y, bins_a_err, lines_a, legend_a, texts_a, rot_a, (8, 31, "A"), True)
pb = build_panel(B_LEFT, B_W, XB, x_ticks_b, x_minor_b, hourly_b + core_b + extra_b + mid_b,
                 bins_b_x, bins_b_y, bins_b_err, lines_b, legend_b, texts_b, rot_b, (630, 31, "B"), False)

chart = alt.hconcat(pa, pb, spacing=SPACING, bounds="flush", padding=0).configure_view(stroke=None).configure(
    font=FONT)
chart.save("out.html", embed_options={"renderer": "svg", "actions": False})
